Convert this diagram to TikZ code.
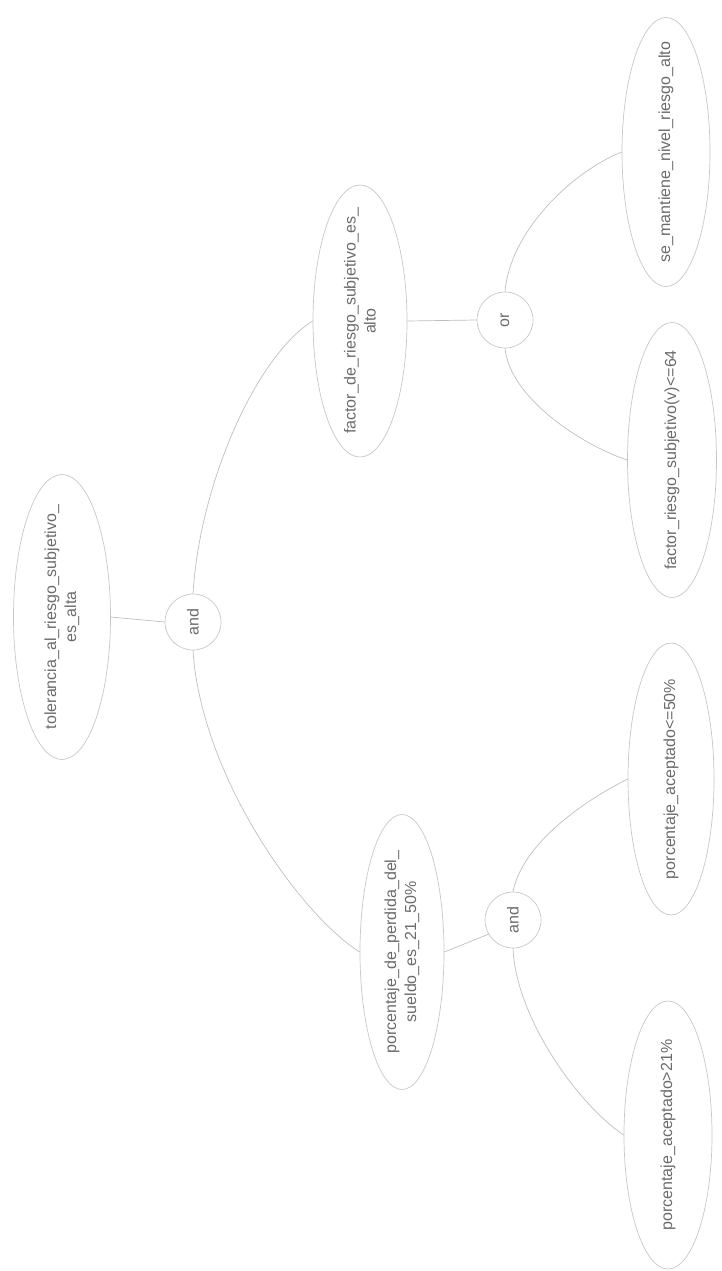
\documentclass[tikz,border=0pt]{standalone}
\usepackage{fontspec}
\setmainfont{Liberation Sans}
\usetikzlibrary{shapes.geometric}
\begin{document}
\begin{tikzpicture}[x=1pt,y=-1pt,
  ell/.style={draw=black!22, line width=0.7pt, ellipse, inner sep=0pt},
  opc/.style={draw=black!22, line width=0.7pt, circle, inner sep=0pt, minimum size=56pt},
  lbl/.style={rotate=90, text=black!58, font=\fontsize{16}{20}\selectfont, align=center, inner sep=0pt},
  edge/.style={draw=black!25, line width=0.7pt}]
\useasboundingbox (0,0) rectangle (722,1271);
% nodes
\node[ell, minimum width=97pt, minimum height=285pt] (tol) at (62,617) {};
\node[lbl] (tolt) at (tol.center) {tolerancia\_al\_riesgo\_subjetivo\_\\es\_alta};
\node[opc] (and1) at (193,622) {};
\node[lbl] (and1t) at (and1.center) {and};
\node[ell, minimum width=94pt, minimum height=272pt] (fac) at (360,321) {};
\node[lbl] (fact) at (fac.center) {factor\_de\_riesgo\_subjetivo\_es\_\\alto};
\node[opc] (or) at (505,320) {};
\node[lbl] (ort) at (or.center) {or};
\node[ell, minimum width=88pt, minimum height=269pt] (se) at (666,152) {};
\node[lbl] (set) at (se.center) {se\_mantiene\_nivel\_riesgo\_alto};
\node[ell, minimum width=89pt, minimum height=275pt] (frs) at (672,460) {};
\node[lbl] (frst) at (frs.center) {factor\_riesgo\_subjetivo(v)<=64};
\node[ell, minimum width=84pt, minimum height=275pt] (pdp) at (402,952) {};
\node[lbl] (pdpt) at (pdp.center) {porcentaje\_de\_perdida\_del\_\\sueldo\_es\_21\_50\%};
\node[opc] (and2) at (513,920) {};
\node[lbl] (and2t) at (and2.center) {and};
\node[ell, minimum width=86pt, minimum height=272pt] (pa50) at (671,779) {};
\node[lbl] (pa50t) at (pa50.center) {porcentaje\_aceptado<=50\%};
\node[ell, minimum width=88pt, minimum height=268pt] (pa21) at (668,1135) {};
\node[lbl] (pa21t) at (pa21.center) {porcentaje\_aceptado>21\%};
% connectors
\draw[edge] (tol.east) -- (and1.west);
\draw[edge] (and1.north) .. controls +(7,-113) and +(-55,34) .. (fac.west);
\draw[edge] (and1.south) .. controls +(8,125) and +(-60,-38) .. (pdp.west);
\draw[edge] (fac.east) -- (or.west);
\draw[edge] (or.north) .. controls +(5,-60) and +(-50,20) .. (se.west);
\draw[edge] (or.south) .. controls +(5,50) and +(-45,-15) .. (frs.west);
\draw[edge] (pdp.east) -- (and2.210);
\draw[edge] (and2.north) .. controls +(10,-50) and +(-40,20) .. (pa50.west);
\draw[edge] (and2.south) .. controls +(3,70) and +(-45,-30) .. (pa21.west);
\end{tikzpicture}
\end{document}
